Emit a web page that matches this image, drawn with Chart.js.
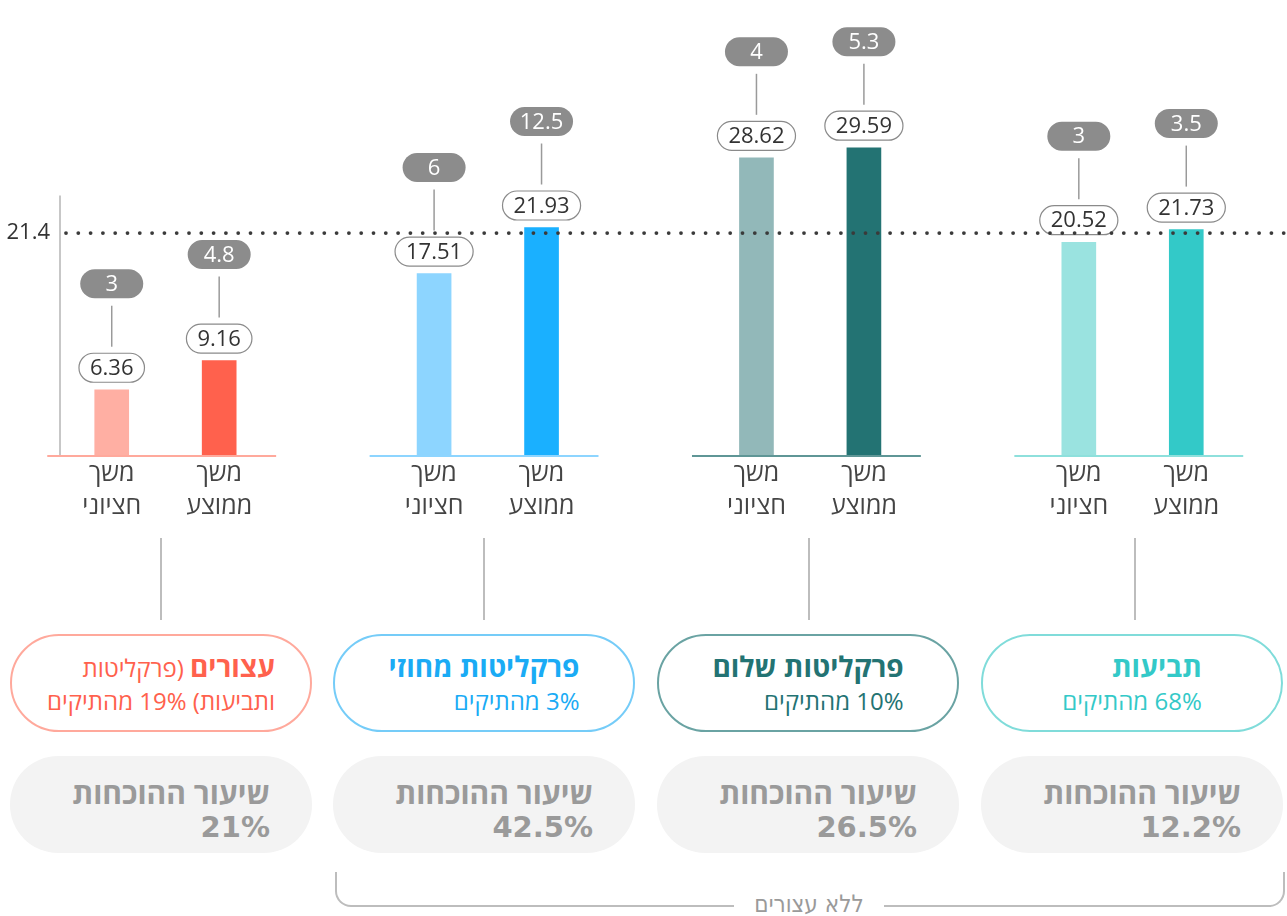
<!DOCTYPE html>
<html lang="he">
<head>
<meta charset="utf-8">
<script src="https://cdn.jsdelivr.net/npm/chart.js@4.4.1/dist/chart.umd.min.js"></script>
<style>
  html, body { margin: 0; padding: 0; background: #fff; }
  body { width: 1287px; height: 916px; position: relative; overflow: hidden;
         font-family: 'Open Sans', 'DejaVu Sans', sans-serif; }
  #chartWrap { position: absolute; left: 0; top: 0; width: 1287px; height: 540px; }
  .stem { position: absolute; top: 538px; width: 2px; height: 82px; background: #bdbdbd; }
  .group { position: absolute; top: 634px; width: 298px; height: 94px; border: 2px solid;
           border-radius: 49px; display: flex; align-items: center; justify-content: center; }
  .group .txt { direction: rtl; text-align: right; font-size: 24px; line-height: 33px; }
  .group b { font-size: 28px; }
  .rate { position: absolute; top: 756px; width: 302px; height: 97px; border-radius: 48px;
          background: #f3f3f3; direction: rtl; text-align: right; box-sizing: border-box;
          padding: 20px 42px 0 0; color: #9a9a9a; font-weight: bold; font-size: 30px; line-height: 33px; }
  .rate .pct { font-weight: bold; font-size: 29px; font-family: 'DejaVu Sans', sans-serif; }
  #bracket { position: absolute; left: 335px; top: 872px; width: 946px; height: 33px;
             border: 2px solid #bdbdbd; border-top: none; border-radius: 0 0 16px 16px; }
  #bracketLabel { position: absolute; left: 0; width: 1618px; top: 890px; text-align: center; }
  #bracketLabel span { background: #fff; padding: 0 20px; color: #9a9a9a; font-size: 24px; direction: rtl;
                       font-family: 'Liberation Sans Narrow', 'DejaVu Sans Condensed', sans-serif; }
</style>
</head>
<body>
<div id="chartWrap"><canvas id="chart"></canvas></div>
<div id="below"></div>
<div id="bracket"></div>
<div id="bracketLabel"><span>ללא עצורים</span></div>
<script>
// data
const groupNames = ['עצורים', 'פרקליטות מחוזי', 'פרקליטות שלום', 'תביעות'];
const caseShares = ['19%', '3%', '10%', '68%'];
const convictionRates = ['21%', '42.5%', '26.5%', '12.2%'];
const medianDuration = [6.36, 17.51, 28.62, 20.52];
const meanDuration = [9.16, 21.93, 29.59, 21.73];
const medianTopValues = [3, 6, 4, 3];
const meanTopValues = [4.8, 12.5, 5.3, 3.5];
const referenceLine = 21.4;
const barLabels = [['משך', 'חציוני'], ['משך', 'ממוצע']];

const medianColors = ['#ffafa3', '#8dd5ff', '#92b8b9', '#9ae3e0'];
const meanColors = ['#ff614d', '#1ab0ff', '#237373', '#33c9c8'];
const baseColors = ['#ffa99c', '#8dd5ff', '#5f9696', '#8ee0dc'];
const boxBorders = ['#ffa99c', '#75ccf8', '#6aa3a3', '#80dcda'];
const titleColors = ['#ff614d', '#1aabf5', '#237373', '#33c9c8'];

const FONT = '"Open Sans", "DejaVu Sans", sans-serif';

// build category slots: two bars per group, an empty slot between groups
const labels = [], values = [], colors = [], tops = [];
groupNames.forEach((g, i) => {
  labels.push(barLabels[0], barLabels[1]);
  values.push(medianDuration[i], meanDuration[i]);
  colors.push(medianColors[i], meanColors[i]);
  tops.push(medianTopValues[i], meanTopValues[i]);
  if (i < groupNames.length - 1) {
    labels.push('');
    values.push(null);
    colors.push('transparent');
    tops.push(null);
  }
});

function pill(ctx, cx, cy, w, h) {
  const r = h / 2;
  ctx.beginPath();
  ctx.moveTo(cx - w / 2 + r, cy - r);
  ctx.lineTo(cx + w / 2 - r, cy - r);
  ctx.arc(cx + w / 2 - r, cy, r, -Math.PI / 2, Math.PI / 2);
  ctx.lineTo(cx - w / 2 + r, cy + r);
  ctx.arc(cx - w / 2 + r, cy, r, Math.PI / 2, Math.PI * 1.5);
  ctx.closePath();
}

const decorations = {
  id: 'decorations',
  afterDatasetsDraw(chart) {
    const { ctx, scales: { x, y }, chartArea } = chart;
    const y0 = y.getPixelForValue(0);
    const slot = x.getPixelForValue(1) - x.getPixelForValue(0);
    ctx.save();
    // y axis stub
    ctx.strokeStyle = '#b5b5b5';
    ctx.lineWidth = 1.5;
    ctx.beginPath();
    ctx.moveTo(chartArea.left + 2, y0);
    ctx.lineTo(chartArea.left + 2, y.getPixelForValue(25));
    ctx.stroke();
    // coloured baseline per group
    groupNames.forEach((g, i) => {
      const a = x.getPixelForValue(i * 3), b = x.getPixelForValue(i * 3 + 1);
      ctx.strokeStyle = baseColors[i];
      ctx.lineWidth = 2;
      ctx.beginPath();
      ctx.moveTo(a - 0.6 * slot, y0);
      ctx.lineTo(b + 0.53 * slot, y0);
      ctx.stroke();
    });
    // labels above bars
    const meta = chart.getDatasetMeta(0);
    ctx.font = '22px ' + FONT;
    ctx.textAlign = 'center';
    ctx.textBaseline = 'middle';
    meta.data.forEach((bar, i) => {
      if (values[i] == null) return;
      const cx = bar.x, top = bar.y;
      // value pill
      const txt = values[i].toFixed(2);
      const w = ctx.measureText(txt).width + 22;
      pill(ctx, cx, top - 22, w, 29);
      ctx.fillStyle = '#fff';
      ctx.fill();
      ctx.strokeStyle = '#8a8a8a';
      ctx.lineWidth = 1.2;
      ctx.stroke();
      ctx.fillStyle = '#333';
      ctx.fillText(txt, cx, top - 21);
      // connector
      ctx.strokeStyle = '#9a9a9a';
      ctx.lineWidth = 1.5;
      ctx.beginPath();
      ctx.moveTo(cx, top - 43);
      ctx.lineTo(cx, top - 84);
      ctx.stroke();
      // grey pill
      pill(ctx, cx, top - 106, 63, 29);
      ctx.fillStyle = '#8c8c8c';
      ctx.fill();
      ctx.fillStyle = '#fff';
      ctx.fillText(String(tops[i]), cx, top - 105);
    });
    // dotted reference line
    const yr = y.getPixelForValue(referenceLine);
    ctx.fillStyle = '#3a3a3a';
    for (let px = chartArea.left + 8; px < chart.width; px += 12.3) {
      ctx.beginPath();
      ctx.arc(px, yr, 1.9, 0, Math.PI * 2);
      ctx.fill();
    }
    ctx.restore();
  }
};

new Chart(document.getElementById('chart'), {
  type: 'bar',
  data: {
    labels: labels,
    datasets: [{ data: values, backgroundColor: colors, barThickness: 34 }]
  },
  options: {
    responsive: true,
    maintainAspectRatio: false,
    animation: false,
    layout: { padding: { left: 6, right: 47, top: 0, bottom: 23 } },
    plugins: { legend: { display: false }, tooltip: { enabled: false } },
    scales: {
      x: {
        grid: { display: false },
        border: { display: false },
        ticks: { color: '#444', padding: -6, maxRotation: 0, autoSkip: false,
                 font: { size: 25, family: FONT, lineHeight: 1.3 } }
      },
      y: {
        min: 0, max: 42.5,
        grid: { display: false },
        border: { display: false },
        afterFit(axis) { axis.width = 52; },
        afterBuildTicks(axis) { axis.ticks = [{ value: referenceLine }]; },
        ticks: { color: '#333', padding: 0, callback: v => String(v),
                 font: { size: 22, family: FONT } }
      }
    }
  },
  plugins: [decorations]
});

// boxes under the chart
const below = document.getElementById('below');
const boxLeft = [10, 333, 657, 981];
const stemX = [160, 483, 808, 1134];
groupNames.forEach((g, i) => {
  const stem = document.createElement('div');
  stem.className = 'stem';
  stem.style.left = stemX[i] + 'px';
  below.appendChild(stem);

  const box = document.createElement('div');
  box.className = 'group';
  box.style.left = boxLeft[i] + 'px';
  box.style.borderColor = boxBorders[i];
  const t = document.createElement('div');
  t.className = 'txt';
  t.style.color = titleColors[i];
  if (i === 0) {
    t.innerHTML = '<b>' + g + '</b> (פרקליטות<br>ותביעות) ' + caseShares[i] + ' מהתיקים';
  } else {
    t.innerHTML = '<b>' + g + '</b><br>' + caseShares[i] + ' מהתיקים';
  }
  box.appendChild(t);
  below.appendChild(box);

  const rate = document.createElement('div');
  rate.className = 'rate';
  rate.style.left = boxLeft[i] + 'px';
  rate.innerHTML = 'שיעור ההוכחות<br><span class="pct">' + convictionRates[i] + '</span>';
  below.appendChild(rate);
});
</script>
</body>
</html>
